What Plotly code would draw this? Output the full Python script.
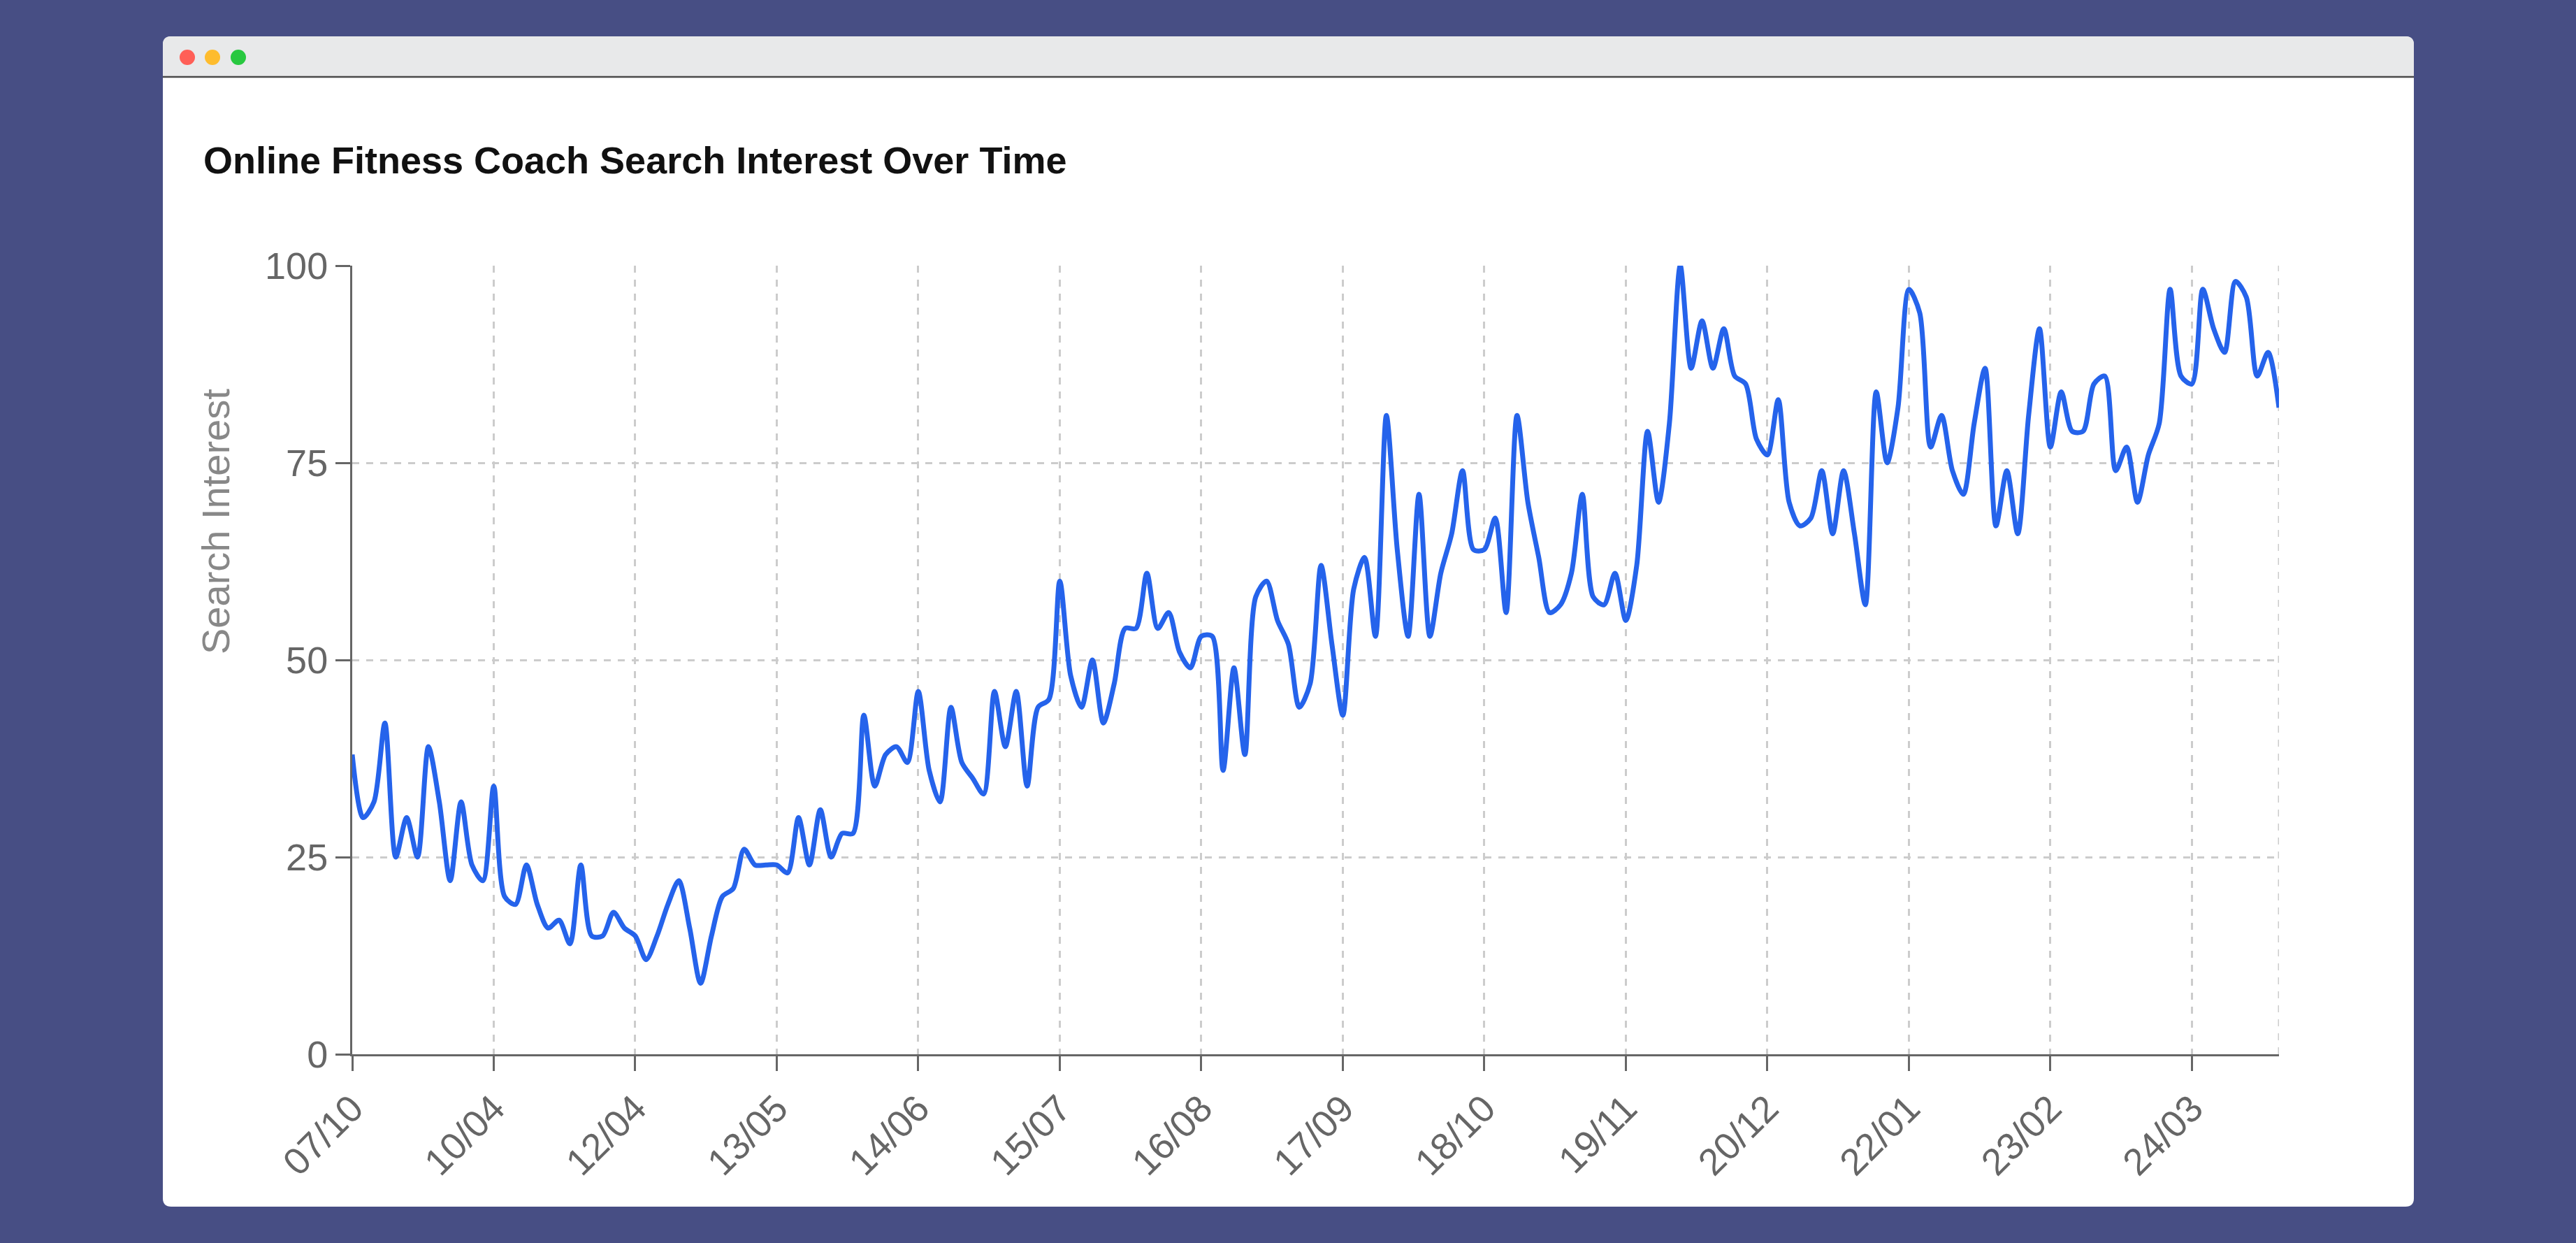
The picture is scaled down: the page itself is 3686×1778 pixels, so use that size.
import plotly.graph_objects as go

# ---------------- data ----------------
tick_labels = ["07/10", "10/04", "12/04", "13/05", "14/06", "15/07", "16/08",
               "17/09", "18/10", "19/11", "20/12", "22/01", "23/02", "24/03"]
tick_every = 13

search_interest = [
    38, 30, 32, 42, 25, 30, 25, 39, 32, 22, 32, 24, 22, 34, 20, 19, 24, 19, 16, 17,
    14, 24, 15, 15, 18, 16, 15, 12, 15, 19, 22, 16, 9, 15, 20, 21, 26, 24, 24, 24,
    23, 30, 24, 31, 25, 28, 28, 43, 34, 38, 39, 37, 46, 36, 32, 44, 37, 35, 33, 46,
    39, 46, 34, 44, 45, 60, 48, 44, 50, 42, 47, 54, 54, 61, 54, 56, 51, 49, 53, 53,
    36, 49, 38, 58, 60, 55, 52, 44, 47, 62, 52, 43, 59, 63, 53, 81, 64, 53, 71, 53,
    61, 66, 74, 64, 64, 68, 56, 81, 70, 63, 56, 57, 61, 71, 58, 57, 61, 55, 62, 79,
    70, 80, 100, 87, 93, 87, 92, 86, 85, 78, 76, 83, 70, 67, 68, 74, 66, 74, 66, 57,
    84, 75, 82, 97, 94, 77, 81, 74, 71, 80, 87, 67, 74, 66, 81, 92, 77, 84, 79, 79,
    85, 86, 74, 77, 70, 76, 80, 97, 86, 85, 97, 92, 89, 98, 96, 86, 89, 82,
]
y_ticks = [0, 25, 50, 75, 100]

x_index = list(range(len(search_interest)))
tick_positions = [i * tick_every for i in range(len(tick_labels))]

# ---------------- layout geometry ----------------
W, H = 3686, 1778
ML, MR, MT, MB = 504, 425, 380, 270
PW = W - ML - MR
PH = H - MT - MB


def px(xp):
    return (xp - ML) / PW


def py(yp):
    return (H - MB - yp) / PH


BG = "#474e84"
FONT = "Liberation Sans, Arial, Helvetica, sans-serif"
AXIS = "#666666"
GRID = "#cccccc"
LINE = "#2563eb"


def rounded_rect(x0, y0, x1, y1, r, round_bottom=True):
    rx, ry = r / PW, r / PH
    X0, X1 = px(x0), px(x1)
    Y0, Y1 = py(y0), py(y1)  # Y0 top (larger), Y1 bottom
    p = f"M {X0 + rx},{Y0} L {X1 - rx},{Y0} Q {X1},{Y0} {X1},{Y0 - ry} "
    if round_bottom:
        p += f"L {X1},{Y1 + ry} Q {X1},{Y1} {X1 - rx},{Y1} L {X0 + rx},{Y1} Q {X0},{Y1} {X0},{Y1 + ry} "
    else:
        p += f"L {X1},{Y1} L {X0},{Y1} "
    p += f"L {X0},{Y0 - ry} Q {X0},{Y0} {X0 + rx},{Y0} Z"
    return p


shapes = [
    dict(type="path", xref="paper", yref="paper", layer="below",
         path=rounded_rect(233, 52, 3454, 1726, 12), fillcolor="white",
         line=dict(width=0)),
    dict(type="path", xref="paper", yref="paper", layer="below",
         path=rounded_rect(233, 52, 3454, 109, 12, round_bottom=False),
         fillcolor="#e8e9ea", line=dict(width=0)),
    dict(type="line", xref="paper", yref="paper", layer="below",
         x0=px(233), x1=px(3454), y0=py(110), y1=py(110),
         line=dict(color="#4a4a4a", width=2.5)),
]
for cx, col in [(268, "#ff5f57"), (304, "#febc2e"), (341, "#28c840")]:
    r = 11
    shapes.append(dict(type="circle", xref="paper", yref="paper", layer="below",
                       x0=px(cx - r), x1=px(cx + r), y0=py(82 + r), y1=py(82 - r),
                       fillcolor=col, line=dict(width=0)))
# right-edge dashed grid line
shapes.append(dict(type="line", xref="x", yref="paper", layer="below",
                   x0=x_index[-1], x1=x_index[-1], y0=0, y1=1,
                   line=dict(color=GRID, width=3, dash="10px,10px")))

fig = go.Figure()
fig.add_trace(go.Scatter(
    x=x_index, y=search_interest, mode="lines",
    line=dict(color=LINE, width=7, shape="spline", smoothing=0.8),
    hoverinfo="skip", showlegend=False,
))

fig.update_layout(
    width=W, height=H,
    margin=dict(l=ML, r=MR, t=MT, b=MB, autoexpand=False),
    paper_bgcolor=BG, plot_bgcolor="rgba(0,0,0,0)",
    font=dict(family=FONT, color=AXIS, size=54),
    shapes=shapes,
    showlegend=False,
    xaxis=dict(
        range=[0, x_index[-1]], tickmode="array",
        tickvals=tick_positions, ticktext=tick_labels,
        tickangle=-45, tickfont=dict(size=54, color=AXIS, family=FONT),
        ticks="outside", ticklen=21, tickwidth=3, tickcolor=AXIS,
        showline=True, linecolor=AXIS, linewidth=3,
        showgrid=True, gridcolor=GRID, gridwidth=3, griddash="10px,10px",
        zeroline=False, fixedrange=True,
    ),
    yaxis=dict(
        range=[0, 100], tickmode="array", tickvals=y_ticks,
        tickfont=dict(size=54, color=AXIS, family=FONT),
        ticks="outside", ticklen=21, tickwidth=3, tickcolor=AXIS,
        showline=True, linecolor=AXIS, linewidth=3,
        showgrid=True, gridcolor=GRID, gridwidth=3, griddash="10px,10px",
        zeroline=False, fixedrange=True,
    ),
    annotations=[
        dict(text="<b>Online Fitness Coach Search Interest Over Time</b>",
             xref="paper", yref="paper", x=px(289), y=py(229),
             xanchor="left", yanchor="middle", showarrow=False,
             font=dict(family=FONT, size=54, color="#111111")),
        dict(text="Search Interest", xref="paper", yref="paper",
             x=px(308), y=py(746), xanchor="center", yanchor="middle",
             textangle=-90, showarrow=False,
             font=dict(family=FONT, size=56, color="#888888")),
    ],
)

fig.write_html(
    "out.html",
    config={"displayModeBar": False},
    post_script="document.body.style.margin='0';document.body.style.overflow='hidden';",
)
